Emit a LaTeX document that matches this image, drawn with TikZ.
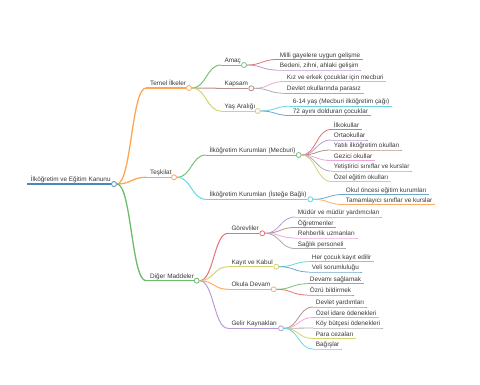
\documentclass[tikz,border=0pt]{standalone}
\usepackage{fontspec}
\setmainfont{Liberation Sans}
\usetikzlibrary{calc}
\definecolor{cblue}{HTML}{1F77B4}
\definecolor{corange}{HTML}{FF7F0E}
\definecolor{cgreen}{HTML}{2CA02C}
\definecolor{cred}{HTML}{D62728}
\definecolor{cpurple}{HTML}{9467BD}
\definecolor{cbrown}{HTML}{8C564B}
\definecolor{cpink}{HTML}{E377C2}
\definecolor{cgrey}{HTML}{7F7F7F}
\definecolor{colive}{HTML}{BCBD22}
\definecolor{ccyan}{HTML}{17BECF}
\tikzset{
  lbl/.style={inner sep=0pt, anchor=base west, text=black!78, font=\fontsize{6.4}{7.7}\selectfont},
  dot/.style={circle, draw, fill=white, inner sep=0pt, minimum size=5pt, line width=0.8pt},
  link/.style={to path={let \p1=(\tikztostart), \p2=(\tikztotarget) in
    .. controls ({(\x1+\x2)/2},\y1) and ({(\x1+\x2)/2},\y2) .. (\tikztotarget)}},
}
\begin{document}
\begin{tikzpicture}[x=1pt, y=-1pt]
\useasboundingbox (0,0) rectangle (480,384);
% root
\coordinate (root-s) at (27,184);
\node[dot, draw=cblue!85] (root) at (114,184) {};
\node[lbl] (root-t) at (30.7,181.5) {İlköğretim ve Eğitim Kanunu};
\draw[cblue!85, line width=1.8pt] (root-s) -- (root.west);
% first level
\foreach \nm/\yy/\cx/\col/\txt in {temel/88/189/corange/Temel İlkeler,
    teskilat/177.3/174/corange/Teşkilat, diger/280.7/196.7/cgreen/Diğer Maddeler}
{
  \coordinate (\nm-s) at (146,\yy);
  \node[dot, draw=\col!70] (\nm) at (\cx,\yy) {};
  \node[lbl] (\nm-t) at (150,\yy-2.5) {\txt};
  \draw[\col!70, line width=1.3pt] (\nm-s) -- (\nm.west);
  \draw[\col!70, line width=1.3pt] (root.east) to[link] (\nm-s);
}
% second level
\foreach \pa/\sx/\nm/\yy/\cx/\col/\txt in {
    temel/221/amac/65/244/cgreen/Amaç,
    temel/221/kapsam/88.3/251.3/cbrown/Kapsam,
    temel/221/yas/111/257.7/colive/Yaş Aralığı,
    teskilat/206/mecburi/155/298.7/cgreen/İlköğretim Kurumları (Mecburi),
    teskilat/206/istege/199.3/310.3/ccyan/İlköğretim Kurumları (İsteğe Bağlı),
    diger/228/gorev/233.3/262.3/cred/Görevliler,
    diger/228/kayit/266.7/276.3/colive/Kayıt ve Kabul,
    diger/228/devam/289.3/273.7/corange/Okula Devam,
    diger/228/gelir/328.3/281/cpurple/Gelir Kaynakları}
{
  \coordinate (\nm-s) at (\sx,\yy);
  \node[dot, draw=\col!65] (\nm) at (\cx,\yy) {};
  \node[lbl] (\nm-t) at (\sx+3.3,\yy-2.5) {\txt};
  \draw[\col!65, line width=1pt] (\nm-s) -- (\nm.west);
  \draw[\col!65, line width=1pt] (\pa.east) to[link] (\nm-s);
}
% leaves
\foreach \pa/\sx/\nm/\yy/\col/\txt in {
    amac/277/milli/59.5/cred/Milli gayelere uygun gelişme,
    amac/277/bedeni/70/cpurple/{Bedeni, zihni, ahlaki gelişim},
    kapsam/284/kiz/81.5/cpink/Kız ve erkek çocuklar için mecburi,
    kapsam/284/parasiz/93.2/cgrey/Devlet okullarında parasız,
    yas/290/cag/106.2/ccyan/6-14 yaş (Mecburi ilköğretim çağı),
    yas/290/ay/115.5/cblue/72 ayını dolduran çocuklar,
    mecburi/331/ilk/129.5/cred/İlkokullar,
    mecburi/331/orta/140/cpurple/Ortaokullar,
    mecburi/331/yatili/150/cbrown/Yatılı ilköğretim okulları,
    mecburi/331/gezici/160.5/cpink/Gezici okullar,
    mecburi/331/yetis/171/cgrey/Yetiştirici sınıflar ve kurslar,
    mecburi/331/ozel/181.5/colive/Özel eğitim okulları,
    istege/343/oncesi/194.5/cblue/Okul öncesi eğitim kurumları,
    istege/343/tamam/204.5/corange/Tamamlayıcı sınıflar ve kurslar,
    gorev/295/mudur/217/cpurple/Müdür ve müdür yardımcıları,
    gorev/295/ogret/227.5/cbrown/Öğretmenler,
    gorev/295/rehber/238/cpink/Rehberlik uzmanları,
    gorev/295/saglik/248.5/cgrey/Sağlık personeli,
    kayit/309/her/261.7/ccyan/Her çocuk kayıt edilir,
    kayit/309/veli/272/cblue/Veli sorumluluğu,
    devam/307/devami/283.8/cgreen/Devamı sağlamak,
    devam/307/ozru/295/cred/Özrü bildirmek,
    gelir/313/yardim/307/cbrown/Devlet yardımları,
    gelir/313/idare/317.5/cpink/Özel idare ödenekleri,
    gelir/313/koy/328/cgrey/Köy bütçesi ödenekleri,
    gelir/313/para/338.5/colive/Para cezaları,
    gelir/313/bagis/349/ccyan/Bağışlar}
{
  \coordinate (\nm-s) at (\sx,\yy);
  \node[lbl] (\nm-t) at (\sx+2.7,\yy-2.4) {\txt};
  \draw[\col!65, line width=0.8pt] (\nm-s) -- (\nm-s -| \nm-t.east) -- ++(2.5,0);
  \draw[\col!65, line width=0.8pt] (\pa.east) to[link] (\nm-s);
}
\end{tikzpicture}
\end{document}
